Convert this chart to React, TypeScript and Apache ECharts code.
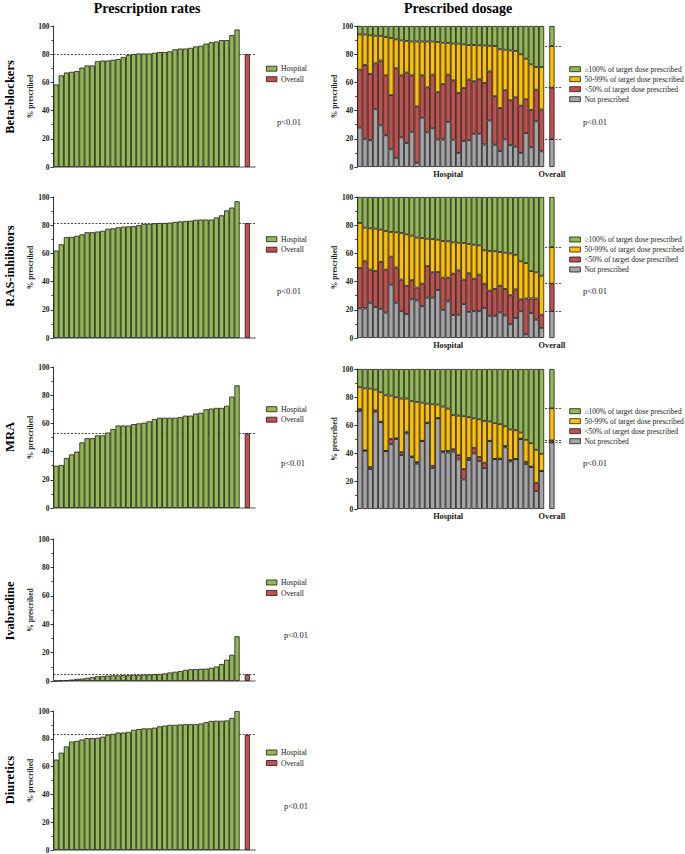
import React, { useEffect, useRef } from "react";
import * as echarts from "echarts";

// ---------- categories ----------
const hospitalIds = [
  "H1", "H2", "H3", "H4", "H5", "H6", "H7", "H8", "H9", "H10", "H11", "H12",
  "H13", "H14", "H15", "H16", "H17", "H18", "H19", "H20", "H21", "H22", "H23", "H24",
  "H25", "H26", "H27", "H28", "H29", "H30", "H31", "H32", "H33", "H34", "H35", "H36",
];
const leftCats = [...hospitalIds, "gap", "Overall", "end"];
const rightCats = [...hospitalIds, "gap", "Overall", "end1", "end2"];

// ---------- prescription rates (% prescribed per hospital) ----------
const bbRate = [58.5, 65, 67, 67.5, 68, 70.5, 72, 72, 75, 75.5, 75.5, 76, 76.5, 78, 79.5, 80, 80.5, 80.5, 80.5, 81, 81.5, 81.5, 82, 83.5, 84, 84, 84.5, 85.5, 86, 87.5, 88.5, 89, 90, 90, 93.5, 97.5];
const bbOverall = 80;
const rasRate = [62, 66.5, 71.5, 71.7, 72.5, 73.5, 75, 75, 75.5, 76, 77.5, 77.8, 78.5, 79, 79.2, 79.3, 80, 81, 81, 81.3, 81.5, 81.6, 81.8, 82.3, 82.7, 83, 83.2, 83.8, 84, 84, 84, 85.5, 87, 90.5, 92.5, 97];
const rasOverall = 81.5;
const mraRate = [30, 30.5, 35.5, 38, 40, 46.5, 49.5, 49.5, 51.5, 51.5, 53.5, 56, 58.5, 58.5, 58.5, 59.5, 60, 60.5, 61.5, 63, 64, 64, 64, 64, 64.5, 65.5, 65.5, 67, 67.5, 70, 70.5, 71, 71, 72.5, 79, 87];
const mraOverall = 53;
const ivaRate = [0, 0.3, 0.5, 1, 1.5, 1.7, 2.2, 2.8, 3.3, 3.5, 3.8, 4, 4, 4.1, 4.2, 4.3, 4.4, 4.5, 4.6, 4.8, 5, 5.3, 6, 6.5, 7, 7.8, 8.2, 8.4, 8.6, 8.7, 9.3, 10.2, 12, 15, 18.5, 31.5];
const ivaOverall = 4.7;
const diuRate = [65, 70, 74.5, 78, 78.5, 79.5, 80.5, 80.5, 80.7, 81.5, 83, 83.5, 84.5, 84.5, 85, 86.5, 87, 87.5, 87.5, 88, 89, 89.5, 90, 90, 90.3, 90.5, 90.5, 90.5, 91, 92, 92.8, 93, 93, 93.2, 95, 100];
const diuOverall = 83;

// ---------- prescribed dosage: cumulative boundaries ----------
// notP: top of "Not prescribed"; lowTop: top of "<50%"; midTop: top of "50-99%" (rest up to 100 is ">=100%")
const bbNotP = [28, 20, 19, 41, 29.5, 22.5, 12.5, 6.5, 21, 17, 25, 3, 35, 24.5, 27.5, 19.5, 19.5, 32, 19.4, 10, 18.4, 19, 23.6, 23.6, 16, 33, 15.8, 11.3, 19.6, 15.4, 14.4, 10, 24, 14, 32.4, 11.1];
const bbLowTop = [69, 72.3, 66, 73.5, 75.5, 65, 51, 70, 65, 67, 65, 43, 65, 56.5, 65.5, 53, 58.8, 65.5, 61.5, 52.5, 56, 62, 60.8, 62.2, 59.6, 67.8, 50.2, 41.8, 54.4, 47.3, 49.4, 43.5, 48, 40.5, 54.8, 40.8];
const bbMidTop = [94, 94, 93.4, 93.1, 93, 92.2, 91.5, 90.5, 89.8, 89.4, 89, 89, 89, 89, 89, 88.6, 88.2, 88, 87.5, 87.5, 87, 86.5, 86.5, 86.3, 86.2, 86, 85.8, 83.5, 83.2, 82.7, 82.3, 80, 76.8, 72.8, 70.9, 70.9];
const bbDoseOverall = [19.7, 56.3, 85.8];

const rasNotP = [21, 21, 25, 22, 20.7, 18, 37.8, 25, 19, 17, 27.4, 26.7, 22.5, 28.6, 28.6, 34, 20, 26, 16.3, 16.5, 24, 18.5, 19, 19, 21.3, 15.8, 15.8, 18.2, 16, 9.7, 14.2, 19, 2.6, 17.7, 13, 7.1];
const rasLowTop = [49.6, 54.4, 48.5, 47.5, 54, 48.5, 57.7, 50, 41.4, 37, 41, 35.7, 38.5, 51, 46.6, 46.8, 42.8, 42.8, 45.6, 48, 41.4, 45.9, 42, 45, 38.5, 33.6, 34.8, 37, 34.8, 30.3, 34.5, 27.4, 28, 28, 28, 16.5];
const rasMidTop = [81.6, 78.3, 77.8, 77.5, 76.8, 75.9, 75.2, 75, 74.5, 73.5, 72.6, 71.2, 70.9, 70.4, 70.2, 69.7, 68.8, 68.6, 67.8, 67.6, 67.4, 66.7, 66.2, 65.7, 62.2, 61.7, 61.5, 61, 60.5, 60, 59, 54.4, 53.2, 47.5, 46.6, 44.2];
const rasDoseOverall = [19, 38.5, 64.5];

const mraNotP = [70, 41.6, 28.5, 69.5, 62, 41.3, 46.3, 50, 38.5, 54, 37, 32.3, 48.5, 61.3, 29.2, 64.8, 40.4, 40.4, 41, 35.4, 21.1, 35, 39.7, 34.2, 29.2, 48.5, 35.6, 35.6, 44, 34, 35.6, 50, 32, 30, 12.8, 27];
const mraLowTop = [71.3, 41.9, 30, 70.5, 62.3, 41.5, 50, 50.5, 40.6, 55.2, 37.5, 33.5, 48.7, 61.7, 30.8, 65, 41.3, 41.5, 42.7, 38.5, 28.5, 36.5, 43.7, 37.2, 33, 48.7, 35.8, 36, 45, 35, 35.8, 50.3, 33.7, 30.3, 18.7, 27.2];
const mraMidTop = [87, 86.2, 86, 85.3, 83.4, 81.2, 81, 79.8, 78.9, 78.9, 77, 76.5, 76, 75.3, 74.8, 74.6, 73.2, 71.7, 67, 66.7, 66.3, 65.6, 64.8, 64.1, 62.9, 62.5, 61.3, 60.6, 59.1, 56.8, 56.3, 54.6, 49.4, 47, 42.3, 39.4];
const mraDoseOverall = [47.5, 49, 72];

const doseNames = [
  "≥100% of target dose prescribed",
  "50-99% of target dose prescribed",
  "<50% of target dose prescribed",
  "Not prescribed",
];

// ---------- styles ----------
const FONT = "'Liberation Serif', 'Times New Roman', serif";
const GREEN = "#93b952";
const RED = "#c2504d";
const YELLOW = "#ffc000";
const GREY = "#a5a5a7";
const EDGE = "#1a1a1a";
const INK = "#1a1a1a";

const leftPanels = [
  { title: "Beta-blockers", rate: bbRate, overall: bbOverall, top: 26, height: 141, legendTop: 64.7, pX: 277, pY: 122, titleY: 97 },
  { title: "RAS-inhibitors", rate: rasRate, overall: rasOverall, top: 197, height: 141, legendTop: 235.2, pX: 277, pY: 291, titleY: 266 },
  { title: "MRA", rate: mraRate, overall: mraOverall, top: 367, height: 141, legendTop: 405.2, pX: 281, pY: 463, titleY: 437 },
  { title: "Ivabradine", rate: ivaRate, overall: ivaOverall, top: 539, height: 142, legendTop: 578.5, pX: 284, pY: 635, titleY: 611 },
  { title: "Diuretics", rate: diuRate, overall: diuOverall, top: 711, height: 141, legendTop: 748.5, pX: 284, pY: 806, titleY: 780 },
];

const rightPanels = [
  { notP: bbNotP, lowTop: bbLowTop, midTop: bbMidTop, overall: bbDoseOverall, top: 26, height: 141, legendTop: 65.2, pY: 122 },
  { notP: rasNotP, lowTop: rasLowTop, midTop: rasMidTop, overall: rasDoseOverall, top: 197, height: 141, legendTop: 235.5, pY: 291 },
  { notP: mraNotP, lowTop: mraLowTop, midTop: mraMidTop, overall: mraDoseOverall, top: 369, height: 140, legendTop: 407.2, pY: 463 },
];

const r1 = (v: number) => Math.round(v * 10) / 10;

function yAxisFor(gridIndex: number, nameGap: number) {
  return {
    gridIndex,
    type: "value",
    min: 0,
    max: 100,
    interval: 20,
    name: "% prescribed",
    nameLocation: "middle",
    nameGap,
    nameTextStyle: { fontFamily: FONT, fontSize: 7.5, fontWeight: "bold", color: INK },
    axisLine: { show: true, lineStyle: { color: "#333", width: 1 } },
    axisTick: { show: true, length: 3, lineStyle: { color: "#333", width: 1 } },
    minorTick: { show: true, splitNumber: 2, length: 2, lineStyle: { color: "#333", width: 1 } },
    axisLabel: { fontFamily: FONT, fontSize: 7.5, fontWeight: "bold", color: INK, margin: 4 },
    splitLine: { show: false },
    minorSplitLine: { show: false },
  };
}

function buildOption() {
  const grid: any[] = [];
  const xAxis: any[] = [];
  const yAxis: any[] = [];
  const series: any[] = [];
  const legend: any[] = [];
  const graphic: any[] = [];

  const slotL = 5.17;
  const slotR = 5.19;

  leftPanels.forEach((p, i) => {
    const gi = grid.length;
    grid.push({ left: 53.5, top: p.top, width: slotL * leftCats.length, height: p.height });
    xAxis.push({
      gridIndex: gi,
      type: "category",
      data: leftCats,
      axisLine: { show: true, lineStyle: { color: "#8a8a8a", width: 1.5 } },
      axisTick: { show: false },
      axisLabel: { show: false },
    });
    yAxis.push(yAxisFor(gi, 16));
    series.push({
      type: "bar",
      name: "Hospital",
      xAxisIndex: gi,
      yAxisIndex: gi,
      stack: "L" + i,
      barCategoryGap: "0%",
      z: 2,
      data: leftCats.map((c, k) => (k < p.rate.length ? p.rate[k] : null)),
      itemStyle: { color: GREEN, borderColor: EDGE, borderWidth: 0.8 },
    });
    series.push({
      type: "bar",
      name: "Overall",
      xAxisIndex: gi,
      yAxisIndex: gi,
      stack: "L" + i,
      barCategoryGap: "0%",
      z: 2,
      data: leftCats.map((c) => (c === "Overall" ? p.overall : null)),
      itemStyle: { color: RED, borderColor: EDGE, borderWidth: 0.8 },
      markLine: {
        z: 1,
        silent: true,
        symbol: "none",
        label: { show: false },
        lineStyle: { type: [2, 1.5], color: "#222", width: 0.8 },
        data: [{ yAxis: p.overall }],
      },
    });
    legend.push({
      data: ["Hospital", "Overall"],
      left: 266,
      top: p.legendTop,
      orient: "vertical",
      icon: "rect",
      itemWidth: 10.5,
      itemHeight: 5,
      itemGap: 2.5,
      padding: 0,
      selectedMode: false,
      itemStyle: { borderColor: EDGE, borderWidth: 0.8 },
      textStyle: { fontFamily: FONT, fontSize: 7.7, color: INK, padding: [0, 0, 0, -1] },
    });
    graphic.push({
      type: "text",
      x: 10,
      y: p.titleY,
      rotation: Math.PI / 2,
      style: {
        text: p.title,
        font: `bold 12.5px ${FONT}`,
        fill: "#000",
        align: "center",
        verticalAlign: "middle",
        textAlign: "center",
        textVerticalAlign: "middle",
      },
    });
    graphic.push({
      type: "text",
      x: p.pX,
      y: p.pY,
      style: {
        text: "p<0.01",
        font: `8.5px ${FONT}`,
        fill: INK,
        align: "left",
        verticalAlign: "middle",
        textAlign: "left",
        textVerticalAlign: "middle",
      },
    });
  });

  rightPanels.forEach((p, i) => {
    const gi = grid.length;
    grid.push({ left: 357.3, top: p.top, width: slotR * rightCats.length, height: p.height });
    xAxis.push({
      gridIndex: gi,
      type: "category",
      data: rightCats,
      axisLine: { show: false },
      axisTick: { show: false },
      axisLabel: {
        show: true,
        interval: 0,
        margin: 3,
        fontFamily: FONT,
        fontSize: 8.3,
        fontWeight: "bold",
        color: INK,
        formatter: (v: string) => (v === "H18" ? "Hospital" : v === "Overall" ? "Overall" : ""),
      },
    });
    yAxis.push(yAxisFor(gi, 15));

    const notSeg = p.notP.map((v) => r1(v));
    const lowSeg = p.lowTop.map((v, k) => r1(v - p.notP[k]));
    const midSeg = p.midTop.map((v, k) => r1(v - p.lowTop[k]));
    const highSeg = p.midTop.map((v) => r1(100 - v));
    const ov = p.overall;
    const ovSegs = [r1(ov[0]), r1(ov[1] - ov[0]), r1(ov[2] - ov[1]), r1(100 - ov[2])];

    const seriesDefs = [
      { name: doseNames[3], seg: notSeg, ov: ovSegs[0], color: GREY },
      { name: doseNames[2], seg: lowSeg, ov: ovSegs[1], color: RED },
      { name: doseNames[1], seg: midSeg, ov: ovSegs[2], color: YELLOW },
      { name: doseNames[0], seg: highSeg, ov: ovSegs[3], color: GREEN },
    ];
    seriesDefs.forEach((d, k) => {
      const s: any = {
        type: "bar",
        name: d.name,
        xAxisIndex: gi,
        yAxisIndex: gi,
        stack: "R" + i,
        barCategoryGap: "0%",
        z: 2,
        data: rightCats.map((c, idx) => (idx < d.seg.length ? d.seg[idx] : c === "Overall" ? d.ov : null)),
        itemStyle: { color: d.color, borderColor: EDGE, borderWidth: 0.8 },
      };
      if (k === 0) {
        s.markLine = {
          z: 1,
          silent: true,
          symbol: "none",
          label: { show: false },
          lineStyle: { type: [2, 1.5], color: "#222", width: 0.8 },
          data: ov.map((v) => [{ coord: ["H36", v] }, { coord: ["end2", v] }]),
        };
      }
      series.push(s);
    });

    legend.push({
      data: doseNames,
      left: 569.3,
      top: p.legendTop,
      orient: "vertical",
      icon: "rect",
      itemWidth: 10.7,
      itemHeight: 5,
      itemGap: 2,
      padding: 0,
      selectedMode: false,
      itemStyle: { borderColor: EDGE, borderWidth: 0.8 },
      textStyle: { fontFamily: FONT, fontSize: 7.5, color: INK, padding: [0, 0, 0, -1] },
    });
    graphic.push({
      type: "text",
      x: 583,
      y: p.pY,
      style: {
        text: "p<0.01",
        font: `8.5px ${FONT}`,
        fill: INK,
        align: "left",
        verticalAlign: "middle",
        textAlign: "left",
        textVerticalAlign: "middle",
      },
    });
  });

  graphic.push({
    type: "text",
    x: 147,
    y: 8,
    style: {
      text: "Prescription rates",
      font: `bold 14px ${FONT}`,
      fill: "#000",
      align: "center",
      verticalAlign: "middle",
      textAlign: "center",
      textVerticalAlign: "middle",
    },
  });
  graphic.push({
    type: "text",
    x: 458,
    y: 8,
    style: {
      text: "Prescribed dosage",
      font: `bold 14px ${FONT}`,
      fill: "#000",
      align: "center",
      verticalAlign: "middle",
      textAlign: "center",
      textVerticalAlign: "middle",
    },
  });

  return {
    animation: false,
    backgroundColor: "#ffffff",
    grid,
    xAxis,
    yAxis,
    legend,
    series,
    graphic,
  };
}

export default function App() {
  const ref = useRef<HTMLDivElement>(null);
  useEffect(() => {
    if (!ref.current) return;
    const chart = echarts.init(ref.current, undefined, { renderer: "svg" });
    chart.setOption(buildOption() as any);
    return () => chart.dispose();
  }, []);
  return (
    <div
      ref={ref}
      style={{ position: "absolute", left: 0, top: 0, width: 685, height: 854, background: "#fff" }}
    />
  );
}
